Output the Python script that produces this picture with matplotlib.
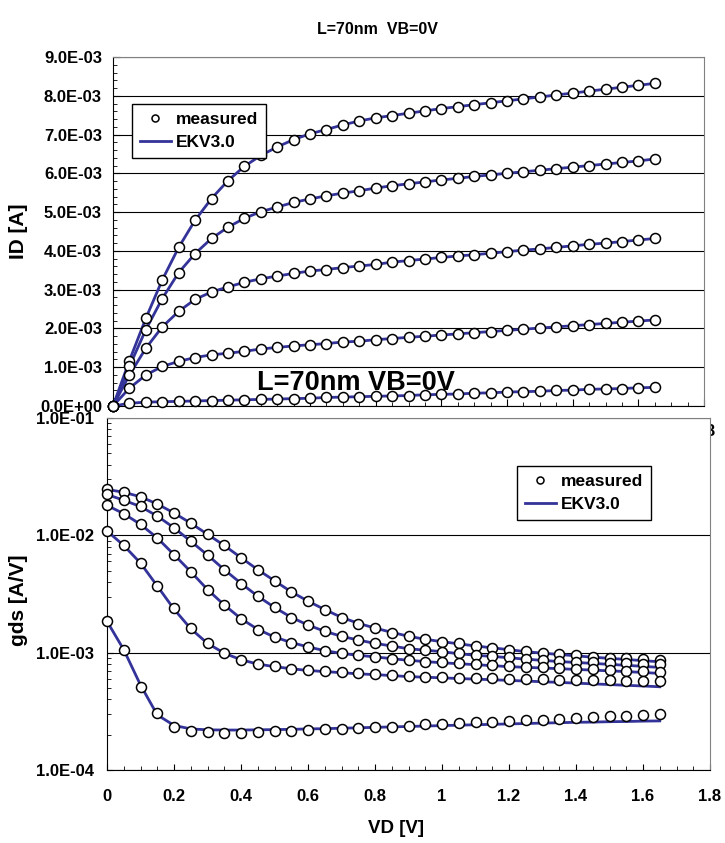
import matplotlib
matplotlib.use('Agg')
import numpy as np
import matplotlib.pyplot as plt
from matplotlib.ticker import MultipleLocator, FixedLocator, LogLocator, NullFormatter, FuncFormatter

plt.rcParams['font.family'] = ['Liberation Sans', 'DejaVu Sans']
plt.rcParams['font.weight'] = 'bold'

#--drain voltage grid [V]
vd = [0.00, 0.05, 0.10, 0.15, 0.20, 0.25, 0.30, 0.35, 0.40, 0.45, 0.50, 0.55,
      0.60, 0.65, 0.70, 0.75, 0.80, 0.85, 0.90, 0.95, 1.00, 1.05, 1.10, 1.15,
      1.20, 1.25, 1.30, 1.35, 1.40, 1.45, 1.50, 1.55, 1.60, 1.65]

#--ID [mA], one list per gate voltage
id1 = [0, 1.17, 2.26, 3.25, 4.09, 4.79, 5.35, 5.81, 6.18, 6.46, 6.68, 6.87, 7.02, 7.13, 7.25, 7.35, 7.43,
       7.49, 7.55, 7.61, 7.67, 7.72, 7.77, 7.82, 7.87, 7.92, 7.97, 8.02, 8.07, 8.12, 8.17, 8.22, 8.27, 8.32]
id2 = [0, 1.02, 1.97, 2.77, 3.44, 3.93, 4.32, 4.61, 4.84, 5.01, 5.13, 5.25, 5.34, 5.42, 5.49, 5.55, 5.62,
       5.68, 5.73, 5.78, 5.83, 5.87, 5.92, 5.96, 6.00, 6.04, 6.08, 6.12, 6.16, 6.20, 6.24, 6.28, 6.32, 6.37]
id3 = [0, 0.80, 1.49, 2.04, 2.44, 2.75, 2.94, 3.07, 3.19, 3.28, 3.35, 3.42, 3.48, 3.52, 3.57, 3.61, 3.65,
       3.71, 3.75, 3.79, 3.83, 3.87, 3.90, 3.94, 3.98, 4.02, 4.05, 4.09, 4.13, 4.17, 4.20, 4.24, 4.28, 4.32]
id4 = [0, 0.46, 0.80, 1.02, 1.15, 1.25, 1.32, 1.36, 1.41, 1.47, 1.51, 1.55, 1.58, 1.61, 1.65, 1.67, 1.71,
       1.74, 1.77, 1.80, 1.83, 1.86, 1.89, 1.92, 1.95, 1.98, 2.01, 2.04, 2.07, 2.10, 2.13, 2.16, 2.19, 2.22]
id5 = [0, 0.07, 0.10, 0.11, 0.12, 0.13, 0.14, 0.15, 0.16, 0.17, 0.18, 0.19, 0.20, 0.22, 0.23, 0.24, 0.25,
       0.26, 0.27, 0.29, 0.30, 0.31, 0.33, 0.34, 0.36, 0.37, 0.38, 0.40, 0.41, 0.43, 0.44, 0.45, 0.47, 0.48]

#--gds [A/V] measured
gE = [2.46e-2, 2.34e-2, 2.12e-2, 1.84e-2, 1.55e-2, 1.27e-2, 1.02e-2, 8.22e-3, 6.41e-3, 5.11e-3, 4.09e-3, 3.29e-3,
      2.74e-3, 2.33e-3, 1.99e-3, 1.77e-3, 1.63e-3, 1.48e-3, 1.38e-3, 1.30e-3, 1.24e-3, 1.20e-3, 1.14e-3, 1.10e-3,
      1.06e-3, 1.03e-3, 1.00e-3, 9.77e-4, 9.52e-4, 9.21e-4, 9.04e-4, 8.92e-4, 8.81e-4, 8.63e-4]
gD = [2.23e-2, 1.99e-2, 1.77e-2, 1.45e-2, 1.16e-2, 8.94e-3, 6.76e-3, 5.11e-3, 3.88e-3, 3.03e-3, 2.43e-3, 1.99e-3,
      1.71e-3, 1.52e-3, 1.38e-3, 1.28e-3, 1.20e-3, 1.15e-3, 1.08e-3, 1.05e-3, 1.02e-3, 9.84e-4, 9.52e-4, 9.40e-4,
      9.10e-4, 8.81e-4, 8.63e-4, 8.52e-4, 8.36e-4, 8.25e-4, 8.19e-4, 8.09e-4, 7.98e-4, 7.93e-4]
gC = [1.80e-2, 1.53e-2, 1.24e-2, 9.49e-3, 6.85e-3, 4.88e-3, 3.40e-3, 2.54e-3, 1.95e-3, 1.57e-3, 1.36e-3, 1.22e-3,
      1.12e-3, 1.04e-3, 9.84e-4, 9.52e-4, 9.22e-4, 8.86e-4, 8.63e-4, 8.36e-4, 8.25e-4, 8.09e-4, 7.93e-4, 7.83e-4,
      7.67e-4, 7.57e-4, 7.48e-4, 7.33e-4, 7.24e-4, 7.19e-4, 7.10e-4, 7.00e-4, 6.96e-4, 6.87e-4]
gB = [1.09e-2, 8.26e-3, 5.77e-3, 3.69e-3, 2.38e-3, 1.63e-3, 1.21e-3, 9.93e-4, 8.71e-4, 8.05e-4, 7.64e-4, 7.30e-4,
      7.06e-4, 6.92e-4, 6.79e-4, 6.70e-4, 6.57e-4, 6.40e-4, 6.27e-4, 6.25e-4, 6.19e-4, 6.11e-4, 6.07e-4, 6.05e-4,
      5.99e-4, 5.95e-4, 5.92e-4, 5.88e-4, 5.86e-4, 5.84e-4, 5.80e-4, 5.78e-4, 5.76e-4, 5.69e-4]
gA = [1.85e-3, 1.06e-3, 5.10e-4, 3.05e-4, 2.34e-4, 2.17e-4, 2.10e-4, 2.08e-4, 2.08e-4, 2.10e-4, 2.14e-4, 2.17e-4,
      2.20e-4, 2.24e-4, 2.25e-4, 2.27e-4, 2.32e-4, 2.34e-4, 2.39e-4, 2.46e-4, 2.47e-4, 2.51e-4, 2.54e-4, 2.59e-4,
      2.62e-4, 2.68e-4, 2.68e-4, 2.73e-4, 2.78e-4, 2.82e-4, 2.88e-4, 2.91e-4, 2.95e-4, 2.99e-4]

#--gds [A/V] EKV3.0 model
mE = [2.46e-2, 2.33e-2, 2.13e-2, 1.85e-2, 1.55e-2, 1.27e-2, 1.02e-2, 8.2e-3, 6.45e-3, 5.1e-3, 4.1e-3, 3.3e-3,
      2.75e-3, 2.33e-3, 2.0e-3, 1.78e-3, 1.62e-3, 1.49e-3, 1.38e-3, 1.30e-3, 1.24e-3, 1.19e-3, 1.14e-3, 1.10e-3,
      1.06e-3, 1.02e-3, 9.9e-4, 9.65e-4, 9.4e-4, 9.15e-4, 8.95e-4, 8.75e-4, 8.55e-4, 8.36e-4]
mD = [2.23e-2, 1.99e-2, 1.76e-2, 1.46e-2, 1.16e-2, 8.9e-3, 6.8e-3, 5.1e-3, 3.9e-3, 3.03e-3, 2.43e-3, 2.0e-3,
      1.72e-3, 1.52e-3, 1.38e-3, 1.28e-3, 1.2e-3, 1.14e-3, 1.08e-3, 1.05e-3, 1.02e-3, 9.8e-4, 9.5e-4, 9.3e-4,
      9.05e-4, 8.8e-4, 8.6e-4, 8.4e-4, 8.25e-4, 8.1e-4, 7.95e-4, 7.8e-4, 7.65e-4, 7.48e-4]
mC = [1.80e-2, 1.53e-2, 1.24e-2, 9.5e-3, 6.85e-3, 4.9e-3, 3.45e-3, 2.55e-3, 1.95e-3, 1.58e-3, 1.36e-3, 1.22e-3,
      1.12e-3, 1.04e-3, 9.85e-4, 9.5e-4, 9.2e-4, 8.9e-4, 8.6e-4, 8.4e-4, 8.2e-4, 8.05e-4, 7.9e-4, 7.75e-4,
      7.6e-4, 7.5e-4, 7.4e-4, 7.3e-4, 7.2e-4, 7.1e-4, 7.0e-4, 6.9e-4, 6.78e-4, 6.65e-4]
mB = [1.09e-2, 8.2e-3, 5.8e-3, 3.7e-3, 2.35e-3, 1.6e-3, 1.2e-3, 9.9e-4, 8.7e-4, 8.0e-4, 7.6e-4, 7.3e-4,
      7.05e-4, 6.9e-4, 6.75e-4, 6.6e-4, 6.5e-4, 6.38e-4, 6.25e-4, 6.18e-4, 6.10e-4, 6.02e-4, 5.95e-4, 5.88e-4,
      5.80e-4, 5.73e-4, 5.65e-4, 5.58e-4, 5.50e-4, 5.42e-4, 5.35e-4, 5.27e-4, 5.20e-4, 5.12e-4]
mA = [1.85e-3, 1.06e-3, 5.3e-4, 2.95e-4, 2.40e-4, 2.24e-4, 2.20e-4, 2.19e-4, 2.19e-4, 2.20e-4, 2.21e-4, 2.22e-4,
      2.24e-4, 2.25e-4, 2.27e-4, 2.29e-4, 2.31e-4, 2.33e-4, 2.35e-4, 2.37e-4, 2.39e-4, 2.41e-4, 2.43e-4, 2.45e-4,
      2.47e-4, 2.49e-4, 2.51e-4, 2.53e-4, 2.55e-4, 2.56e-4, 2.58e-4, 2.59e-4, 2.61e-4, 2.62e-4]

xticks = [0, 0.2, 0.4, 0.6, 0.8, 1, 1.2, 1.4, 1.6, 1.8]

lcol = '#333399'
W, H = 725., 843.
mk = dict(ls='none', marker='o', ms=7.2, mfc='white', mec='black', mew=1.1, clip_on=False, zorder=4)
ln = dict(color=lcol, lw=2.0, zorder=3)
legkw = dict(loc='upper left', fancybox=False, edgecolor='black', framealpha=1, fontsize=12.5,
             handlelength=1.8, markerscale=0.7, borderpad=0.45, labelspacing=0.45,
             handletextpad=0.3, borderaxespad=0)

sci = FuncFormatter(lambda v, p: '%.1E' % v)
xfmt = FuncFormatter(lambda v, p: '%g' % v)


def plot():
    fig = plt.figure(figsize=(W/100, H/100), dpi=100)
    ax1 = fig.add_axes([113/W, 1-406/H, 591/W, 349/H], zorder=1)
    ax2 = fig.add_axes([107/W, 1-770/H, 603/W, 352/H], zorder=2)

    #--top: ID-VD
    for k, cur in enumerate([id1, id2, id3, id4, id5]):
        y = np.array(cur)*1e-3
        ax1.plot(vd, y, label='EKV3.0' if k == 0 else None, **ln)
        ax1.plot(vd, y, label='measured' if k == 0 else None, **mk)

    ax1.set_xlim(0, 1.8)
    ax1.set_ylim(0, 9e-3)
    ax1.yaxis.set_major_locator(MultipleLocator(1e-3))
    ax1.yaxis.set_minor_locator(MultipleLocator(2e-4))
    ax1.yaxis.set_major_formatter(sci)
    ax1.xaxis.set_major_locator(FixedLocator(xticks))
    ax1.xaxis.set_major_formatter(xfmt)
    ax1.xaxis.set_minor_locator(MultipleLocator(0.05))
    ax1.tick_params(axis='y', which='both', direction='in', labelsize=12, pad=8)
    ax1.tick_params(axis='x', which='both', direction='in', labelsize=12, pad=13)
    ax1.tick_params(which='major', length=5)
    ax1.tick_params(which='minor', length=3)
    ax1.yaxis.grid(True, which='major', color='black', lw=0.8)
    ax1.set_axisbelow(True)
    ax1.set_ylabel('ID [A]', fontsize=15, fontweight='bold')
    ax1.yaxis.set_label_coords((28-113)/591., 0.5)
    for s in ['top', 'right']:
        ax1.spines[s].set_color('#808080')

    h, l = ax1.get_legend_handles_labels()
    order = [l.index('measured'), l.index('EKV3.0')]
    leg = ax1.legend([h[i] for i in order], [l[i] for i in order],
                     bbox_to_anchor=(132/W, 1-104/H), bbox_transform=fig.transFigure, **legkw)
    leg.get_frame().set_linewidth(1.0)

    #--bottom: gds-VD
    ax2.set_facecolor('white')
    for g, m in [(gE, mE), (gD, mD), (gC, mC), (gB, mB), (gA, mA)]:
        ax2.plot(vd, m, label='EKV3.0' if g is gE else None, **ln)
        ax2.plot(vd, g, label='measured' if g is gE else None, **mk)

    ax2.set_yscale('log')
    ax2.set_xlim(0, 1.8)
    ax2.set_ylim(1e-4, 1e-1)
    ax2.yaxis.set_major_locator(FixedLocator([1e-4, 1e-3, 1e-2, 1e-1]))
    ax2.yaxis.set_major_formatter(sci)
    ax2.yaxis.set_minor_locator(LogLocator(base=10, subs=np.arange(2, 10)))
    ax2.yaxis.set_minor_formatter(NullFormatter())
    ax2.xaxis.set_major_locator(FixedLocator(xticks))
    ax2.xaxis.set_major_formatter(xfmt)
    ax2.xaxis.set_minor_locator(MultipleLocator(0.05))
    ax2.tick_params(axis='y', which='both', direction='in', labelsize=12, pad=9.5)
    ax2.tick_params(axis='x', which='both', direction='in', labelsize=12, pad=14)
    ax2.tick_params(which='major', length=4)
    ax2.tick_params(which='minor', length=3)
    ax2.yaxis.grid(True, which='major', color='black', lw=0.8)
    ax2.set_axisbelow(True)
    ax2.set_ylabel('gds [A/V]', fontsize=15, fontweight='bold')
    ax2.yaxis.set_label_coords((28-107)/603., (770-600)/352.)
    ax2.set_xlabel('VD [V]', fontsize=13.5, fontweight='bold')
    ax2.xaxis.set_label_coords((396-107)/603., (770-820)/352.)
    for s in ['top', 'right']:
        ax2.spines[s].set_color('#808080')

    h, l = ax2.get_legend_handles_labels()
    order = [l.index('measured'), l.index('EKV3.0')]
    leg = ax2.legend([h[i] for i in order], [l[i] for i in order],
                     bbox_to_anchor=(517/W, 1-466/H), bbox_transform=fig.transFigure, **legkw)
    leg.get_frame().set_linewidth(1.0)

    #--titles
    fig.text(377/W, 1-30/H, 'L=70nm  VB=0V', ha='center', va='center', fontsize=11.5, fontweight='bold')
    fig.text(356/W, 1-383/H, 'L=70nm VB=0V', ha='center', va='center', fontsize=19.5, fontweight='bold', zorder=5)

    filename = 'out.png'
    fig.savefig(filename, dpi=100)
    print('Saving figure to %s' % filename)
    plt.close(fig)


if __name__ == "__main__":
    plot()
